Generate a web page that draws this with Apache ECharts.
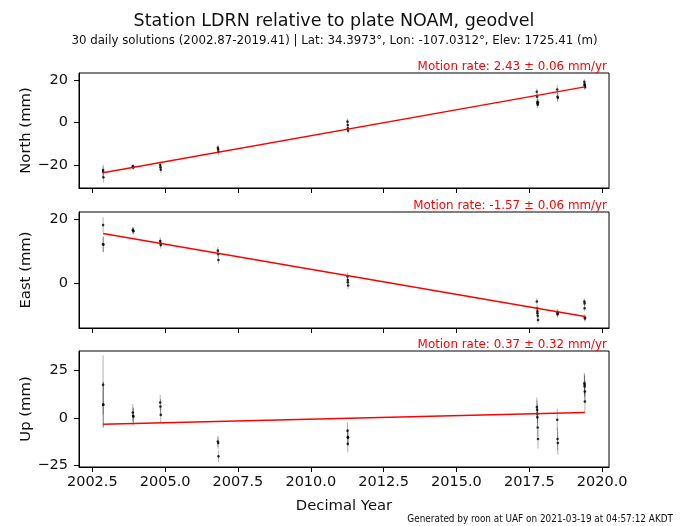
<!DOCTYPE html>
<html><head><meta charset="utf-8">
<script src="https://cdn.jsdelivr.net/npm/echarts@6/dist/echarts.min.js"></script>
<style>html,body{margin:0;padding:0;background:#fff}#c{width:683px;height:526px}</style>
</head><body><div id="c"></div>
<script>
// ---- data ----
const times = [
  2002.87, 2002.87, 2002.88,
  2003.89, 2003.90, 2003.91,
  2004.83, 2004.84, 2004.85,
  2006.81, 2006.82, 2006.83,
  2011.26, 2011.27, 2011.27, 2011.28,
  2017.76, 2017.77, 2017.78, 2017.78, 2017.79, 2017.80,
  2018.46, 2018.47, 2018.48,
  2019.39, 2019.40, 2019.40, 2019.41, 2019.41
];
const north = [
  -22.2, -23.0, -25.6,
  -20.4, -20.7, -21.0,
  -19.8, -20.9, -22.0,
  -11.7, -12.5, -13.6,
  0.5, -1.1, -2.6, -3.7,
  14.5, 12.2, 9.8, 9.1, 8.4, 9.5,
  15.6, 12.2, 11.7,
  19.2, 18.1, 17.7, 16.6, 17.2
];
const northErr = [
  2.5, 2.5, 2.5,
  1.0, 1.0, 1.0,
  1.5, 1.5, 1.5,
  1.5, 1.5, 1.5,
  1.5, 1.5, 1.5, 1.5,
  1.5, 1.5, 1.5, 1.5, 1.5, 1.5,
  2.0, 2.0, 2.0,
  1.2, 1.2, 1.2, 1.2, 1.2
];
const east = [
  18.1, 12.1, 12.0,
  16.6, 16.4, 16.2,
  13.1, 12.4, 11.9,
  10.1, 9.0, 7.2,
  2.0, 0.9, 0.2, -0.8,
  -5.8, -7.9, -8.9, -9.5, -10.3, -11.6,
  -9.2, -9.8, -9.4,
  -5.8, -6.4, -7.9, -10.8, -11.1
];
const eastErr = [
  2.4, 2.4, 2.4,
  1.0, 1.0, 1.0,
  1.2, 1.2, 1.2,
  1.2, 1.2, 1.2,
  1.2, 1.2, 1.2, 1.2,
  1.0, 1.0, 1.0, 1.0, 1.0, 1.0,
  1.0, 1.0, 1.0,
  1.0, 1.0, 1.0, 1.0, 1.0
];
const up = [
  17.5, 7.1, 7.0,
  2.9, 1.2, 0.8,
  8.2, 6.1, 1.7,
  -12.3, -13.1, -20.1,
  -6.7, -10.0, -13.5, -10.3,
  5.8, 4.4, 2.3, 0.5, -4.9, -11.0,
  -0.9, -11.0, -13.1,
  18.3, 17.5, 16.6, 14.0, 8.7
];
const upErr = [
  15.5, 12.0, 12.0,
  4.5, 4.5, 4.5,
  4.0, 4.0, 4.0,
  3.0, 3.0, 3.0,
  4.5, 4.5, 4.5, 4.5,
  5.0, 5.0, 5.0, 5.0, 5.0, 5.0,
  6.0, 6.0, 6.0,
  5.5, 5.5, 5.5, 5.5, 5.5
];
const panelNames = ['North (mm)', 'East (mm)', 'Up (mm)'];
const fitT0 = 2002.87, fitT1 = 2019.41;
const fitStartValues = [-23.4, 15.5, -3.2];
const rates = [2.43, -1.57, 0.37];
const rateErrors = [0.06, 0.06, 0.32];
const xTicks = [2002.5, 2005.0, 2007.5, 2010.0, 2012.5, 2015.0, 2017.5, 2020.0];
const yTicks = [[-20, 0, 20], [0, 20], [-25, 0, 25]];
const xRange = [2002.043, 2020.237];
const yRanges = [[-30.6, 23.3], [-14.1, 22.2], [-25.7, 35.3]];

// ---- chart ----
const FONT = 'DejaVu Sans';
const values = [north, east, up];
const errs = [northErr, eastErr, upErr];
const gridTops = [73, 212, 351];
const gridH = [115, 116, 116];
const minus = v => String(v).replace('-', '\u2212');

function errRender(params, api) {
  const t = api.value(0), lo = api.value(1), hi = api.value(2);
  const p1 = api.coord([t, lo]), p2 = api.coord([t, hi]);
  return { type: 'line', shape: { x1: p1[0], y1: p1[1], x2: p2[0], y2: p2[1] },
    style: { stroke: 'rgba(0,0,0,0.3)', lineWidth: 1 } };
}

const grids = [], xAxes = [], yAxes = [], series = [], titles = [];
for (let i = 0; i < 3; i++) {
  grids.push({ left: 79, width: 530, top: gridTops[i], height: gridH[i], show: true,
    borderColor: '#000', borderWidth: 1, backgroundColor: 'transparent' });
  xAxes.push({
    type: 'value', gridIndex: i, min: xRange[0], max: xRange[1],
    axisLine: { show: true, onZero: false, lineStyle: { color: '#000', width: 1 } },
    axisTick: { show: true, length: 5, customValues: xTicks, lineStyle: { color: '#000' } },
    axisLabel: { show: i === 2, customValues: xTicks, formatter: v => Number(v).toFixed(1),
      fontFamily: FONT, fontSize: 14.5, color: '#111', margin: 8 },
    splitLine: { show: false },
    name: i === 2 ? 'Decimal Year' : '', nameLocation: 'middle', nameGap: 32,
    nameTextStyle: { fontFamily: FONT, fontSize: 14.8, color: '#111' }
  });
  yAxes.push({
    type: 'value', gridIndex: i, min: yRanges[i][0], max: yRanges[i][1],
    axisLine: { show: true, onZero: false, lineStyle: { color: '#000', width: 1 } },
    axisTick: { show: true, length: 5, customValues: yTicks[i], lineStyle: { color: '#000' } },
    axisLabel: { customValues: yTicks[i], formatter: v => minus(v),
      fontFamily: FONT, fontSize: 14.5, color: '#111', margin: 11 },
    splitLine: { show: false },
    name: panelNames[i], nameLocation: 'middle', nameRotate: 90, nameGap: 45, nameMoveOverlap: false,
    nameTextStyle: { fontFamily: FONT, fontSize: 14.8, color: '#111' }
  });
  const d = times.map((t, k) => [t, values[i][k]]);
  const e = times.map((t, k) => [t, values[i][k] - errs[i][k], values[i][k] + errs[i][k]]);
  series.push({ type: 'custom', xAxisIndex: i, yAxisIndex: i, renderItem: errRender,
    encode: { x: 0, y: [1, 2] }, data: e, silent: true, z: 1 });
  series.push({ type: 'scatter', xAxisIndex: i, yAxisIndex: i, data: d, symbolSize: 2.6,
    itemStyle: { color: '#000' }, z: 2 });
  const a = fitStartValues[i];
  series.push({ type: 'line', xAxisIndex: i, yAxisIndex: i, showSymbol: false, symbol: 'none',
    data: [[fitT0, a], [fitT1, a + rates[i] * (fitT1 - fitT0)]],
    lineStyle: { color: '#ff0000', width: 1.5 }, z: 3 });
  titles.push({ text: 'Motion rate: ' + rates[i].toFixed(2) + ' \u00b1 ' + rateErrors[i].toFixed(2) + ' mm/yr',
    right: 76, top: gridTops[i] - 12, padding: 0,
    textStyle: { fontFamily: FONT, fontSize: 11.9, fontWeight: 'normal', color: '#ff0000' } });
}
titles.push({ text: 'Station LDRN relative to plate NOAM, geodvel', left: 334, textAlign: 'center', top: 12, padding: 0,
  textStyle: { fontFamily: FONT, fontSize: 17.5, fontWeight: 'normal', color: '#111' } });
titles.push({ text: '30 daily solutions (2002.87-2019.41) | Lat: 34.3973\u00b0, Lon: -107.0312\u00b0, Elev: 1725.41 (m)',
  left: 334.5, textAlign: 'center', top: 35, padding: 0,
  textStyle: { fontFamily: FONT, fontSize: 11.8, fontWeight: 'normal', color: '#111' } });
titles.push({ text: 'Generated by roon at UAF on 2021-03-19 at 04:57:12 AKDT', right: 10, top: 514, padding: 0,
  textStyle: { fontFamily: "'DejaVu Sans Condensed', 'Liberation Sans Narrow', 'Liberation Sans'", fontSize: 9.9, fontWeight: 'normal', color: '#111' } });

const chart = echarts.init(document.getElementById('c'), null, { renderer: 'canvas' });
chart.setOption({ animation: false, backgroundColor: '#fff', title: titles, grid: grids,
  xAxis: xAxes, yAxis: yAxes, series: series });
</script></body></html>
